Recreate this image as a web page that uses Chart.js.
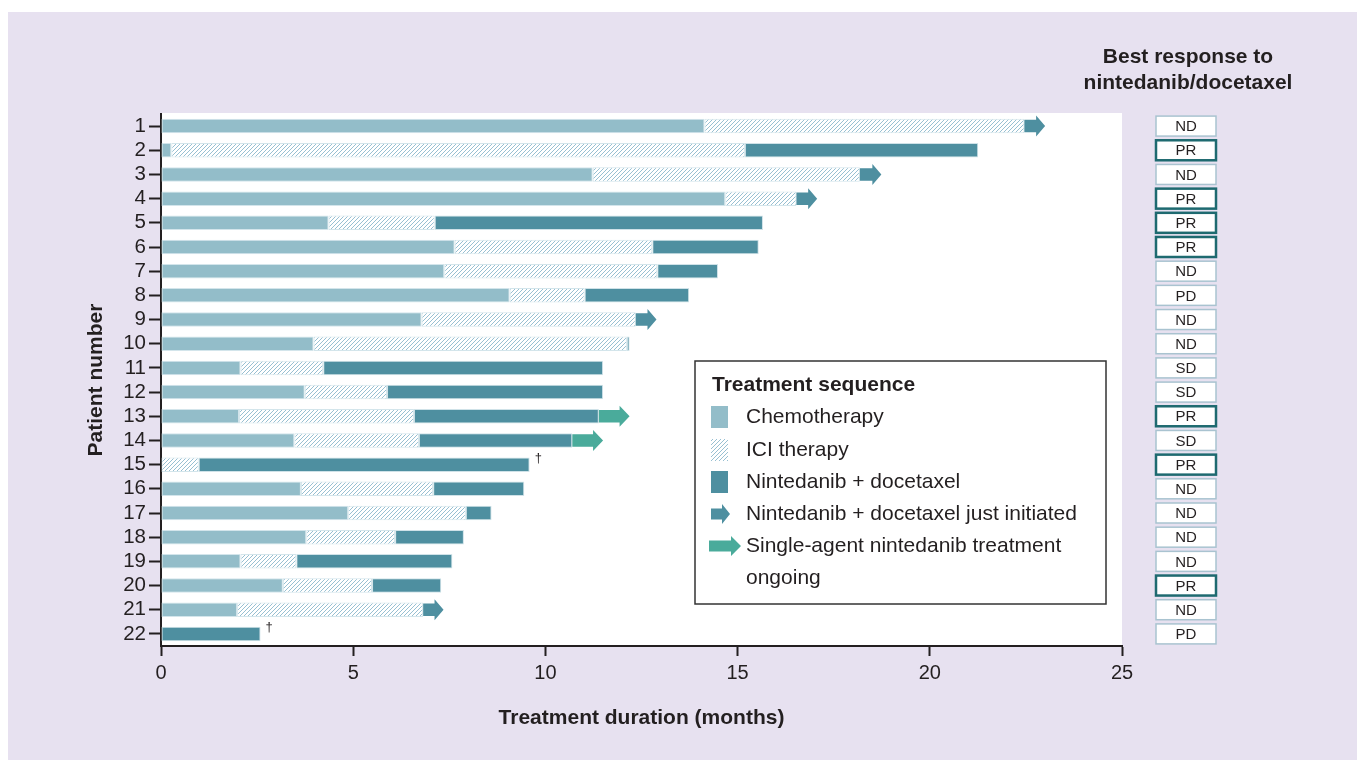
<!DOCTYPE html>
<html>
<head>
<meta charset="utf-8">
<script src="https://cdn.jsdelivr.net/npm/chart.js@4.4.0/dist/chart.umd.min.js"></script>
<style>
  html, body { margin: 0; padding: 0; background: #fff; }
  #wrap { width: 1357px; height: 760px; position: relative; }
</style>
</head>
<body>
<div id="wrap"><canvas id="chart" width="1357" height="760"></canvas></div>
<script>
const canvas = document.getElementById("chart");
const ctx = canvas.getContext("2d");

// patients 1..22, months at which each phase ends (null = phase not given)
const patients = ["1","2","3","4","5","6","7","8","9","10","11","12","13","14","15","16","17","18","19","20","21","22"];
const chemoEnd = [14.14, 0.27, 11.23, 14.68, 4.36, 7.64, 7.37, 9.07, 6.78, 3.97, 2.07, 3.74, 2.03, 3.47, 0, 3.64, 4.87, 3.78, 2.07, 3.17, 1.98, 0];
const iciEnd   = [22.46, 15.19, 18.18, 16.53, 7.12, 12.78, 12.91, 11.02, 12.35, 12.12, 4.22, 5.88, 6.58, 6.71, 0.98, 7.08, 7.93, 6.09, 3.52, 5.49, 6.82, 0];
const ninEnd   = [null, 21.26, null, null, 15.66, 15.55, 14.49, 13.74, null, 12.19, 11.50, 11.50, 11.39, 10.70, 9.59, 9.45, 8.60, 7.88, 7.58, 7.29, null, 2.59];
const justInitiatedEnd = [23.0, null, 18.74, 17.07, null, null, null, null, 12.89, null, null, null, null, null, null, null, null, null, null, null, 7.35, null];
const singleAgentEnd   = [null, null, null, null, null, null, null, null, null, null, null, null, 12.19, 11.50, null, null, null, null, null, null, null, null];
const deceased = ["15", "22"];
const bestResponse = ["ND","PR","ND","PR","PR","PR","ND","PD","ND","ND","SD","SD","PR","SD","PR","ND","ND","ND","ND","PR","ND","PD"];
const xTicks = [0, 5, 10, 15, 20, 25];

const FONT = '"Liberation Sans", Arial, Helvetica, sans-serif';
const INK = "#231f20";
const CHEMO = "#93bdc9";
const NINTE = "#4e8fa0";
const GREEN = "#4aab9b";
const LAVENDER = "#e7e1f0";

function makeHatch() {
  const c = document.createElement("canvas");
  c.width = 4; c.height = 4;
  const g = c.getContext("2d");
  g.fillStyle = "#fff";
  g.fillRect(0, 0, 4, 4);
  g.strokeStyle = "#98c0d2";
  g.lineWidth = 1;
  g.beginPath();
  g.moveTo(0, 4); g.lineTo(4, 0);
  g.moveTo(-1, 1); g.lineTo(1, -1);
  g.moveTo(3, 5); g.lineTo(5, 3);
  g.stroke();
  return ctx.createPattern(c, "repeat");
}
const hatch = makeHatch();

// build floating [start, end] segments
const chemoSeg = chemoEnd.map(e => e > 0 ? [0, e] : null);
const iciSeg = iciEnd.map((e, i) => e > chemoEnd[i] ? [chemoEnd[i], e] : null);
const ninSeg = ninEnd.map((e, i) => e != null ? [iciEnd[i], e] : null);
const initSeg = justInitiatedEnd.map((e, i) => e != null ? [ninEnd[i] != null ? ninEnd[i] : iciEnd[i], e] : null);
const singleSeg = singleAgentEnd.map((e, i) => e != null ? [ninEnd[i], e] : null);

function drawArrow(g, x0, x1, y, shaftH, headH, headL, color) {
  g.fillStyle = color;
  g.beginPath();
  g.moveTo(x0, y - shaftH / 2);
  g.lineTo(x1 - headL, y - shaftH / 2);
  g.lineTo(x1 - headL, y - headH / 2);
  g.lineTo(x1, y);
  g.lineTo(x1 - headL, y + headH / 2);
  g.lineTo(x1 - headL, y + shaftH / 2);
  g.lineTo(x0, y + shaftH / 2);
  g.closePath();
  g.fill();
}

const backdrop = {
  id: "backdrop",
  beforeDraw(chart) {
    const g = chart.ctx;
    const a = chart.chartArea;
    g.save();
    g.fillStyle = "#fff";
    g.fillRect(0, 0, chart.width, chart.height);
    g.fillStyle = LAVENDER;
    g.fillRect(8, 12, chart.width - 8, chart.height - 12);
    g.fillStyle = "#fff";
    g.fillRect(a.left, a.top - 1, a.right - a.left, a.bottom - a.top + 1);
    g.restore();
  }
};

const extras = {
  id: "extras",
  afterDatasetsDraw(chart) {
    const g = chart.ctx;
    const yScale = chart.scales.y;
    const xScale = chart.scales.x;
    g.save();
    // arrows
    [[3, NINTE, 9], [4, GREEN, 10]].forEach(([di, color, headL]) => {
      const meta = chart.getDatasetMeta(di);
      meta.data.forEach((bar, j) => {
        if (chart.data.datasets[di].data[j] == null) return;
        const p = bar.getProps(["x", "base", "y", "height"], true);
        drawArrow(g, p.base, p.x, p.y, p.height * 0.86, 21, headL, color);
      });
    });
    // daggers
    g.fillStyle = INK;
    g.font = "13px " + FONT;
    g.textAlign = "left";
    g.textBaseline = "middle";
    deceased.forEach(label => {
      const i = patients.indexOf(label);
      const x = xScale.getPixelForValue(ninEnd[i]);
      const y = yScale.getPixelForValue(i);
      g.fillText("\u2020", x + 5, y - 6);
    });
    // best response column
    g.textAlign = "center";
    g.font = "bold 21px " + FONT;
    g.fillText("Best response to", 1188, 57);
    g.fillText("nintedanib/docetaxel", 1188, 83);
    g.font = "15px " + FONT;
    bestResponse.forEach((r, i) => {
      const y = yScale.getPixelForValue(i);
      const pr = r === "PR";
      g.fillStyle = "#fff";
      g.fillRect(1156, y - 10, 60, 20);
      g.strokeStyle = pr ? "#1e6a70" : "#a9c3d0";
      g.lineWidth = pr ? 2.5 : 1.5;
      g.strokeRect(1156, y - 10, 60, 20);
      g.fillStyle = INK;
      g.fillText(r, 1186, y + 1);
    });
    // legend box
    g.fillStyle = "#fff";
    g.fillRect(695, 361, 411, 243);
    g.strokeStyle = "#333";
    g.lineWidth = 1.5;
    g.strokeRect(695, 361, 411, 243);
    g.textAlign = "left";
    g.fillStyle = INK;
    g.font = "bold 21px " + FONT;
    g.fillText("Treatment sequence", 712, 385);
    g.font = "21px " + FONT;
    const rows = [417, 450, 482, 514, 546];
    const names = ["Chemotherapy", "ICI therapy", "Nintedanib + docetaxel", "Nintedanib + docetaxel just initiated", "Single-agent nintedanib treatment"];
    names.forEach((n, k) => {
      g.fillStyle = INK;
      g.fillText(n, 746, rows[k]);
    });
    g.fillText("ongoing", 746, 578);
    g.fillStyle = CHEMO; g.fillRect(711, 406, 17, 22);
    g.fillStyle = hatch; g.fillRect(711, 439, 17, 22);
    g.fillStyle = NINTE; g.fillRect(711, 471, 17, 22);
    drawArrow(g, 711, 730, 514, 11, 20, 8, NINTE);
    drawArrow(g, 709, 741, 546, 11, 20, 10, GREEN);
    g.restore();
  }
};

const barCommon = { grouped: false, barPercentage: 0.6, categoryPercentage: 1, borderSkipped: false };

new Chart(ctx, {
  type: "bar",
  data: {
    labels: patients,
    datasets: [
      Object.assign({ label: "Chemotherapy", data: chemoSeg, backgroundColor: CHEMO, borderColor: "#d3e5eb", borderWidth: 1 }, barCommon),
      Object.assign({ label: "ICI therapy", data: iciSeg, backgroundColor: hatch, borderColor: "#d3e5eb", borderWidth: 1 }, barCommon),
      Object.assign({ label: "Nintedanib + docetaxel", data: ninSeg, backgroundColor: NINTE, borderColor: "#cfe2e8", borderWidth: 1 }, barCommon),
      Object.assign({ label: "Nintedanib + docetaxel just initiated", data: initSeg, backgroundColor: "rgba(0,0,0,0)", borderWidth: 0 }, barCommon),
      Object.assign({ label: "Single-agent nintedanib treatment ongoing", data: singleSeg, backgroundColor: "rgba(0,0,0,0)", borderWidth: 0 }, barCommon)
    ]
  },
  options: {
    indexAxis: "y",
    responsive: false,
    animation: false,
    layout: { padding: { left: 80, top: 114, right: 235, bottom: 25 } },
    plugins: { legend: { display: false }, tooltip: { enabled: false } },
    scales: {
      x: {
        min: 0, max: 25,
        afterFit(scale) { scale.height = 89; },
        afterBuildTicks(scale) { scale.ticks = xTicks.map(v => ({ value: v })); },
        ticks: { color: INK, font: { size: 20, family: FONT }, padding: 5 },
        grid: { drawOnChartArea: false, drawTicks: true, tickLength: 10, tickColor: INK, tickWidth: 2 },
        border: { display: true, color: INK, width: 2 },
        title: { display: true, text: "Treatment duration (months)", color: INK, font: { size: 21, weight: "bold", family: FONT } }
      },
      y: {
        afterFit(scale) { scale.width = 81; },
        ticks: { color: INK, font: { size: 20.5, family: FONT }, padding: 3, autoSkip: false },
        grid: { offset: false, drawOnChartArea: false, drawTicks: true, tickLength: 12, tickColor: INK, tickWidth: 2 },
        border: { display: true, color: INK, width: 2 },
        title: { display: true, text: "Patient number", color: INK, font: { size: 21, weight: "bold", family: FONT } }
      }
    }
  },
  plugins: [backdrop, extras]
});
</script>
</body>
</html>
